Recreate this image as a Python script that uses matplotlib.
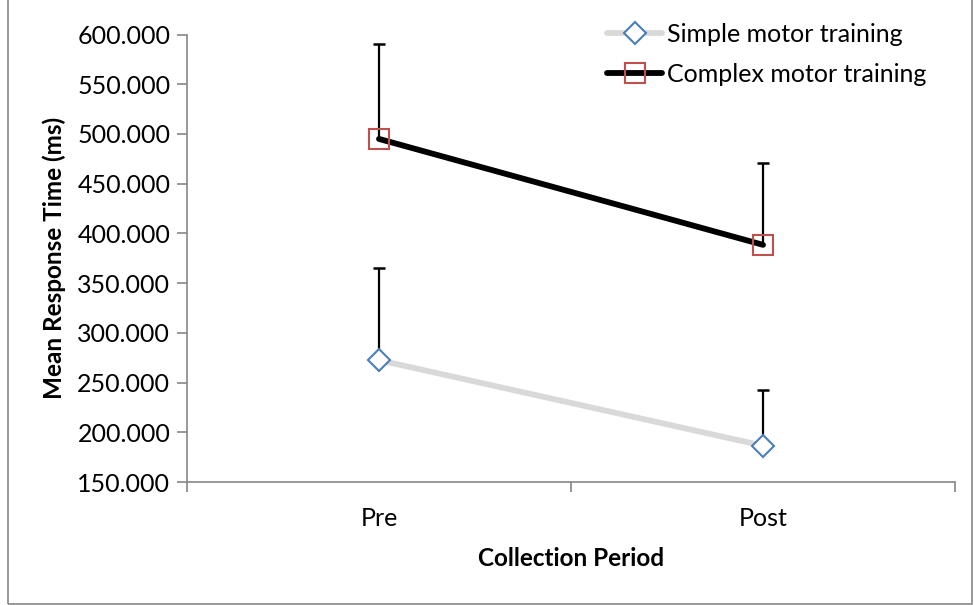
import matplotlib
matplotlib.use("Agg")
import matplotlib.pyplot as plt
from matplotlib.patches import Rectangle

periods = ["Pre", "Post"]
simple_mean = [272.5, 186.5]
simple_err = [92.5, 56.5]
complex_mean = [495.0, 388.5]
complex_err = [95.0, 82.5]
yticks = [150, 200, 250, 300, 350, 400, 450, 500, 550, 600]

plt.rcParams['font.family'] = ['Lato', 'DejaVu Sans']
FS = 18

fig = plt.figure(figsize=(9.74, 6.05), dpi=100)
L, R, T, B = 187, 955, 34.5, 482
ax = fig.add_axes([L/974, 1-B/605, (R-L)/974, (B-T)/605])

x = [1, 2]
gray = "#868686"
for means, errs in [(simple_mean, simple_err), (complex_mean, complex_err)]:
    tops = [m + e for m, e in zip(means, errs)]
    ax.vlines(x, means, tops, color='black', lw=1.6, zorder=2)
    ax.plot(x, tops, ls='none', marker='_', markersize=9, markeredgewidth=1.8,
            color='black', zorder=2)

ax.plot(x, simple_mean, color='#d9d9d9', lw=4.2, marker='D', markersize=11.5,
        markerfacecolor='white', markeredgecolor='#4a7ebb', markeredgewidth=1.5,
        label='Simple motor training', zorder=3, solid_capstyle='round')
ax.plot(x, complex_mean, color='black', lw=4.2, marker='s', markersize=14,
        markerfacecolor='none', markeredgecolor='#c0504d', markeredgewidth=1.5,
        label='Complex motor training', zorder=3, solid_capstyle='round')

ax.set_xlim(0.5, 2.5)
ax.set_ylim(150, 600)
ax.set_yticks(yticks)
ax.set_yticklabels([f"{v:.3f}" for v in yticks])
ax.set_xticks([0.5, 1.5, 2.5])
ax.set_xticklabels([])
ax.set_xticks(x, minor=True)
ax.set_xticklabels(periods, minor=True)
ax.tick_params(axis='x', which='minor', length=0, pad=18, labelsize=FS)
ax.tick_params(axis='x', which='major', length=7, color=gray, width=1.2, direction='out')
ax.tick_params(axis='y', length=7, color=gray, width=1.2, direction='out', labelsize=FS, pad=5)

for s in ['top', 'right']:
    ax.spines[s].set_visible(False)
for s in ['left', 'bottom']:
    ax.spines[s].set_color(gray)
    ax.spines[s].set_linewidth(1.2)

ax.set_xlabel("Collection Period", fontsize=17.5, fontweight='bold', labelpad=12)
ax.set_ylabel("Mean Response Time (ms)", fontsize=17.5, fontweight='bold', labelpad=8)

leg = ax.legend(loc='upper left', bbox_to_anchor=((607-L)/(R-L), 1 + (T-23)/(B-T)),
                frameon=False, fontsize=18, handlelength=2.2, handletextpad=0.2,
                labelspacing=0.68, borderaxespad=0, borderpad=0)

fig.patches.append(Rectangle((8/974, 1-604/605), 964/974, 610/605, transform=fig.transFigure,
                             fill=False, edgecolor='#868686', lw=1.2))

fig.savefig("out.png", dpi=100)
